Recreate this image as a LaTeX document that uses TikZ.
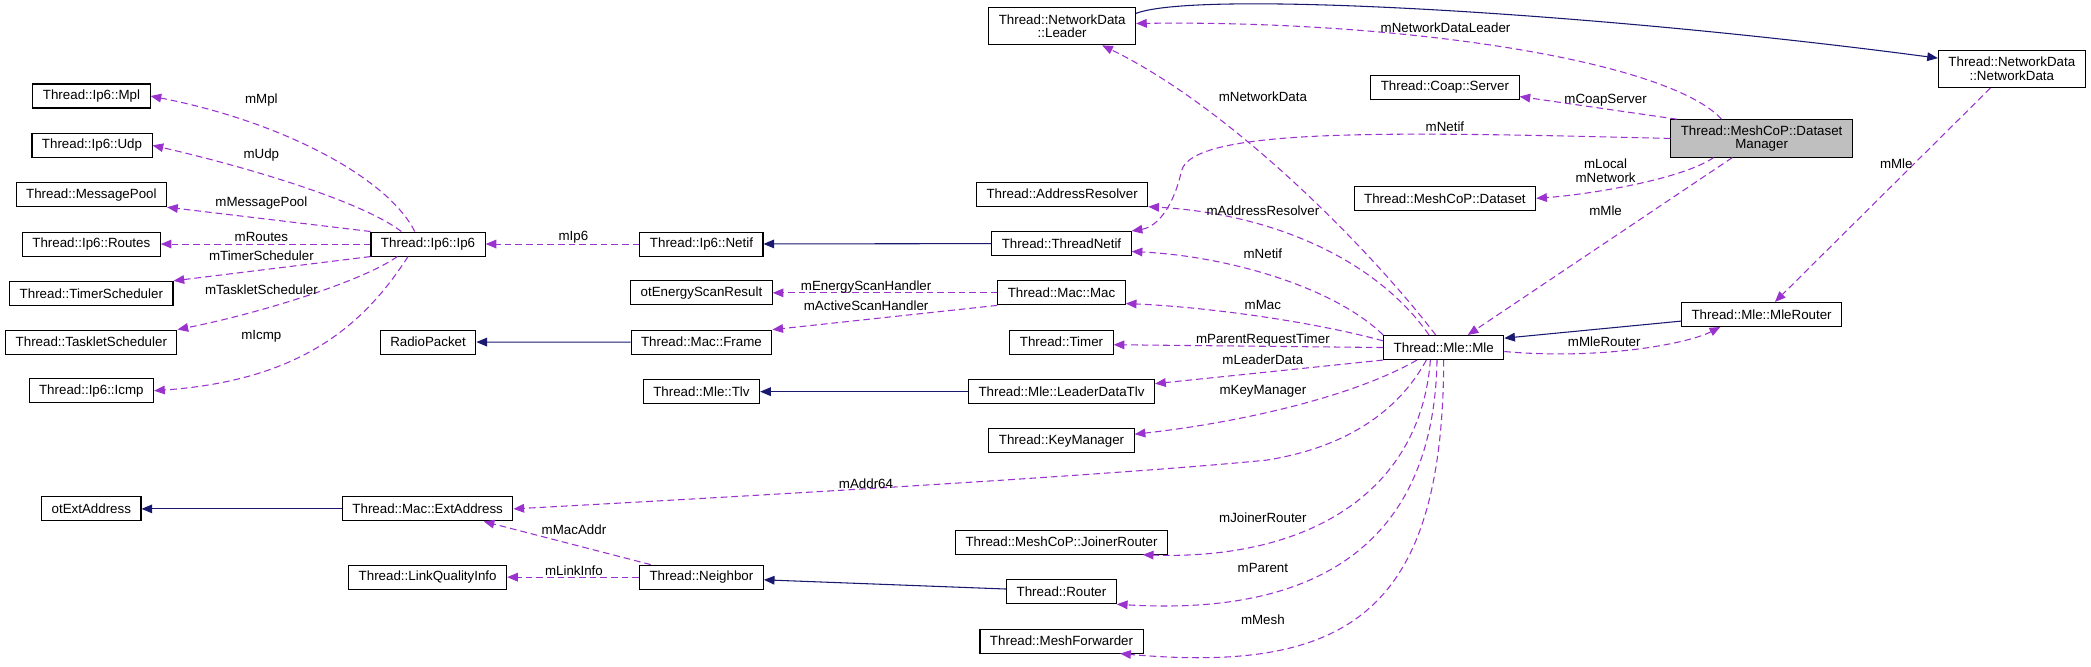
\documentclass[tikz,border=0pt]{standalone}
\usepackage{fontspec}
\setmainfont{Liberation Sans}
\usetikzlibrary{arrows.meta}
\definecolor{refcol}{HTML}{9A32CD}
\definecolor{inhcol}{HTML}{191970}

\begin{document}
\begin{tikzpicture}[x=1pt, y=-1pt,
    font=\fontsize{10pt}{10pt}\selectfont,
    cls/.style={draw, line width=0.8pt, minimum height=18pt, inner xsep=7.5pt, inner ysep=2pt},
    cls2/.style={cls, align=center, minimum height=28pt},
    member/.style={draw=refcol, line width=0.8pt, dash pattern=on 5pt off 3pt, -{Triangle[length=8pt,width=6.5pt]}, fill=none},
    inherit/.style={draw=inhcol, line width=0.8pt, -{Triangle[length=8pt,width=6.5pt,fill=inhcol]}},
    lbl/.style={inner sep=0pt}]
  \useasboundingbox (0,0) rectangle (1568,500);
  % left column
  \node[cls] (mpl) at (68.6,72) {Thread::Ip6::Mpl};
  \node[cls] (udp) at (69,109) {Thread::Ip6::Udp};
  \node[cls] (msgpool) at (68.5,146) {Thread::MessagePool};
  \node[cls] (routes) at (68.5,183) {Thread::Ip6::Routes};
  \node[cls] (timersched) at (68.5,220) {Thread::TimerScheduler};
  \node[cls] (taskletsched) at (68.5,256.5) {Thread::TaskletScheduler};
  \node[cls] (icmp) at (68.5,293) {Thread::Ip6::Icmp};
  \node[cls] (otextaddr) at (68.5,381.6) {otExtAddress};
  \node[cls] (ip6) at (321,183) {Thread::Ip6::Ip6};
  \node[cls] (radiopacket) at (321,256.5) {RadioPacket};
  \node[cls] (extaddr) at (320.7,381.6) {Thread::Mac::ExtAddress};
  \node[cls] (linkquality) at (320.7,432.8) {Thread::LinkQualityInfo};
  \node[cls] (ip6netif) at (526,183) {Thread::Ip6::Netif};
  \node[cls] (energyscan) at (526,219.6) {otEnergyScanResult};
  \node[cls] (macframe) at (526,256.6) {Thread::Mac::Frame};
  \node[cls] (mletlv) at (526,293.7) {Thread::Mle::Tlv};
  \node[cls] (neighbor) at (526,432.8) {Thread::Neighbor};
  % middle column
  \node[cls2] (leader) at (796.5,19.6) {Thread::NetworkData\\::Leader};
  \node[cls] (addrresolver) at (796.5,145.6) {Thread::AddressResolver};
  \node[cls] (threadnetif) at (796,182.6) {Thread::ThreadNetif};
  \node[cls] (macmac) at (796,219.6) {Thread::Mac::Mac};
  \node[cls] (timer) at (796,256.5) {Thread::Timer};
  \node[cls] (leaderdatatlv) at (796,293.7) {Thread::Mle::LeaderDataTlv};
  \node[cls] (keymanager) at (796,330.6) {Thread::KeyManager};
  \node[cls] (joinerrouter) at (796,406.6) {Thread::MeshCoP::JoinerRouter};
  \node[cls] (router) at (796,443.7) {Thread::Router};
  \node[cls] (meshforwarder) at (796,480.7) {Thread::MeshForwarder};
  \node[cls] (coapserver) at (1083.5,65.4) {Thread::Coap::Server};
  \node[cls] (dataset) at (1083.5,148.7) {Thread::MeshCoP::Dataset};
  \node[cls] (mle) at (1082.6,260.6) {Thread::Mle::Mle};
  % right column
  \node[cls2, fill=black!25] (datasetmgr) at (1321,103.8) {Thread::MeshCoP::Dataset\\Manager};
  \node[cls] (mlerouter) at (1321,235.8) {Thread::Mle::MleRouter};
  \node[cls2] (networkdata) at (1508.6,51.6) {Thread::NetworkData\\::NetworkData};

  % Ip6 members
  \draw[member] ([xshift=-10pt]ip6.north) .. controls (292,135) and (215,92) .. (mpl.east);
  \draw[member] ([xshift=-20pt]ip6.north) .. controls (270,150) and (180,124) .. (udp.east);
  \draw[member] (ip6.north west) -- (msgpool.south east);
  \draw[member] (ip6) -- (routes);
  \draw[member] (ip6.south west) -- (timersched.north east);
  \draw[member] ([xshift=-23pt]ip6.south) .. controls (270,212) and (190,236) .. (taskletsched.north east);
  \draw[member] ([xshift=-15pt]ip6.south) .. controls (275,240) and (230,285) .. (icmp.east);
  \draw[member] (ip6netif) -- (ip6);
  \draw[inherit] (threadnetif) -- (ip6netif);
  \draw[inherit] (macframe) -- (radiopacket);
  \draw[member] (macmac) -- (energyscan);
  \draw[member] (macmac.south west) -- (macframe.north east);
  \draw[inherit] (leaderdatatlv) -- (mletlv);
  \draw[inherit] (extaddr) -- (otextaddr);
  \draw[member] ([xshift=-38pt]neighbor.north) -- ([xshift=42pt]extaddr.south);
  \draw[member] (neighbor) -- (linkquality);
  \draw[inherit] ([yshift=2pt]router.west) -- ([yshift=-2pt]neighbor.east);
  \draw[inherit] ([yshift=9.6pt]leader.east) .. controls (900,-8) and (1200,10) .. ([yshift=8pt]networkdata.west);

  % DatasetManager members
  \draw[member] ([xshift=-30pt]datasetmgr.north) .. controls (1250,45) and (1050,15) .. ([yshift=2pt]leader.east);
  \draw[member] ([xshift=5pt]datasetmgr.north west) -- ([yshift=-7pt]coapserver.east);
  \draw[member] (datasetmgr.west) .. controls (1050,99) and (895,95) .. (886,128)
    .. controls (880,155) and (868,170) .. (threadnetif.north east);
  \draw[member] ([xshift=-36pt]datasetmgr.south) .. controls (1260,135) and (1190,146) .. (dataset.east);
  \draw[member] ([xshift=-22pt]datasetmgr.south) -- ([xshift=18pt]mle.north);

  % Mle members
  \draw[member] ([xshift=-6pt]mle.north) .. controls (1030,190) and (925,82) .. ([xshift=30pt]leader.south);
  \draw[member] ([xshift=-11pt]mle.north) .. controls (1030,192) and (950,160) .. (addrresolver.south east);
  \draw[member] (mle.north west) .. controls (1000,215) and (920,192) .. ([yshift=-6pt]threadnetif.east);
  \draw[member] ([yshift=5pt]mle.west) .. controls (980,240) and (900,230) .. ([yshift=-8pt]macmac.east);
  \draw[member] (mle.west) -- ([yshift=-2pt]timer.east);
  \draw[member] (mle.south west) -- ([yshift=6pt]leaderdatatlv.east);
  \draw[member] ([xshift=-20pt]mle.south) .. controls (1010,300) and (920,318) .. ([yshift=5pt]keymanager.east);
  \draw[member] ([xshift=-13pt]mle.south) .. controls (1045,315) and (1000,337) .. (950,345)
    .. controls (850,355) and (600,370) .. (extaddr.east);
  \draw[member] ([xshift=-10pt]mle.south) .. controls (1065,370) and (980,420) .. ([xshift=61pt]joinerrouter.south);
  \draw[member] ([xshift=-5pt]mle.south) .. controls (1075,410) and (985,462) .. (router.south east);
  \draw[member] (mle.south) .. controls (1082,460) and (1010,505) .. ([xshift=44pt]meshforwarder.south);
  \draw[inherit] ([yshift=-5pt]mlerouter.west) -- ([yshift=7pt]mle.east);
  \draw[member] ([yshift=-3pt]mle.east) .. controls (1200,270) and (1265,258) .. ([xshift=-31pt]mlerouter.south);
  \draw[member] ([xshift=-16pt]networkdata.south) -- ([xshift=10pt]mlerouter.north);

  % edge labels
  \node[lbl] (lmpl) at (196,75) {mMpl};
  \node[lbl] (ludp) at (196,116) {mUdp};
  \node[lbl] (lmsgpool) at (196,152) {mMessagePool};
  \node[lbl] (lroutes) at (196,178) {mRoutes};
  \node[lbl] (ltimersched) at (196,191.7) {mTimerScheduler};
  \node[lbl] (ltaskletsched) at (196,217.5) {mTaskletScheduler};
  \node[lbl] (licmp) at (196,252) {mIcmp};
  \node[lbl] (lip6) at (430,178.2) {mIp6};
  \node[lbl] (lenergy) at (649.5,215.5) {mEnergyScanHandler};
  \node[lbl] (lactive) at (649.5,229.2) {mActiveScanHandler};
  \node[lbl] (lmacaddr) at (430.4,397.5) {mMacAddr};
  \node[lbl] (llinkinfo) at (430.4,428) {mLinkInfo};
  \node[lbl] (laddr64) at (649.4,363) {mAddr64};
  \node[lbl] (lndleader) at (1084,20.5) {mNetworkDataLeader};
  \node[lbl] (lcoap) at (1204,75) {mCoapServer};
  \node[lbl] (lnetifdm) at (1083.5,95) {mNetif};
  \node[lbl, align=center] (llocal) at (1204,128) {mLocal\\mNetwork};
  \node[lbl] (lmledm) at (1204,158) {mMle};
  \node[lbl] (lnetdata) at (947,72.5) {mNetworkData};
  \node[lbl] (laddrres) at (947,158) {mAddressResolver};
  \node[lbl] (lnetifmle) at (947,190.5) {mNetif};
  \node[lbl] (lmac) at (947,229) {mMac};
  \node[lbl] (lparenttimer) at (947,255) {mParentRequestTimer};
  \node[lbl] (lleaderdata) at (947,269.5) {mLeaderData};
  \node[lbl] (lkeymgr) at (947,293.7) {mKeyManager};
  \node[lbl] (ljoiner) at (947,388) {mJoinerRouter};
  \node[lbl] (lparent) at (947,425.7) {mParent};
  \node[lbl] (lmesh) at (947,465) {mMesh};
  \node[lbl] (lmlerouter) at (1203,256) {mMleRouter};
  \node[lbl] (lmlend) at (1422,122.5) {mMle};
\end{tikzpicture}
\end{document}
